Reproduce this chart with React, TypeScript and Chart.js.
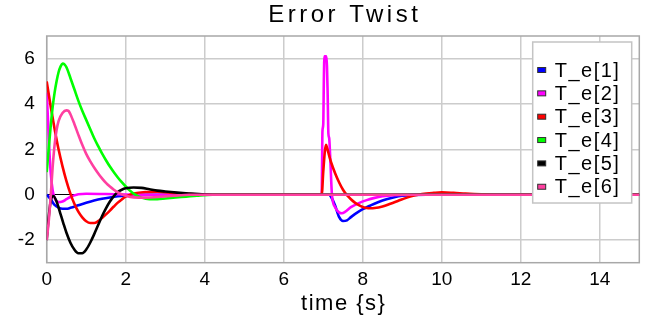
import { useEffect, useRef } from "react";
import { Chart, registerables } from "chart.js";

Chart.register(...registerables);

const chartTitle = "Error Twist";
const xAxisTitle = "time {s}";
const seriesNames = ["T_e[1]", "T_e[2]", "T_e[3]", "T_e[4]", "T_e[5]", "T_e[6]"];
const seriesColors = ["#0000ff", "#ff00ff", "#ff0000", "#00ff00", "#000000", "#ff3fa0"];
const xTicks = [0, 2, 4, 6, 8, 10, 12, 14];
const yTicks = [-2, 0, 2, 4, 6];
const xRange = [0, 15];
const yRange = [-3, 7];

const te1Time = [0, 0.1, 0.2, 0.3, 0.4, 0.5, 0.6, 0.8, 1.0, 1.2, 1.4, 1.6, 1.8, 2.0, 2.4, 2.8, 7.15, 7.2, 7.3, 7.4, 7.5, 7.6, 7.7, 7.8, 8.0, 8.2, 8.4, 8.6, 8.8, 9.0, 9.3, 9.6, 15];
const te1Value = [0, -0.2, -0.45, -0.57, -0.62, -0.62, -0.58, -0.47, -0.36, -0.26, -0.18, -0.12, -0.07, -0.04, -0.01, 0, 0, -0.1, -0.48, -0.98, -1.16, -1.13, -0.99, -0.86, -0.64, -0.47, -0.32, -0.2, -0.11, -0.05, -0.01, 0, 0];

const te2Time = [0, 0.03, 0.06, 0.1, 0.15, 0.2, 0.3, 0.4, 0.5, 0.6, 0.7, 0.8, 1.0, 1.5, 2.0, 2.5, 6.96, 6.98, 7.0, 7.015, 7.03, 7.08, 7.11, 7.13, 7.15, 7.18, 7.22, 7.3, 7.4, 7.47, 7.55, 7.7, 7.9, 8.1, 8.3, 8.5, 8.8, 9.2, 15];
const te2Value = [4.5, 3.4, 2.2, 1.0, 0.2, -0.15, -0.33, -0.3, -0.2, -0.1, -0.03, 0.02, 0.04, 0.03, 0.01, 0, 0, 2.8, 3.1, 5.0, 6.1, 6.1, 4.6, 2.7, 2.5, 1.5, 0.0, -0.55, -0.78, -0.82, -0.76, -0.55, -0.37, -0.24, -0.14, -0.07, -0.02, 0, 0];

const te3Time = [0, 0.1, 0.2, 0.3, 0.4, 0.5, 0.6, 0.7, 0.8, 0.9, 1.0, 1.1, 1.2, 1.3, 1.4, 1.5, 1.6, 1.7, 1.8, 1.9, 2.0, 2.2, 2.5, 2.8, 3.2, 3.6, 4.0, 6.96, 7.0, 7.04, 7.07, 7.1, 7.15, 7.2, 7.3, 7.4, 7.5, 7.6, 7.7, 7.8, 7.9, 8.0, 8.1, 8.2, 8.3, 8.5, 8.7, 8.9, 9.1, 9.3, 9.5, 9.8, 10.0, 10.3, 10.6, 11.0, 11.5, 15];
const te3Value = [5, 3.9, 2.9, 2.0, 1.25, 0.6, 0.05, -0.4, -0.75, -1.0, -1.17, -1.25, -1.25, -1.17, -1.03, -0.87, -0.7, -0.52, -0.35, -0.21, -0.09, 0.05, 0.12, 0.13, 0.08, 0.03, 0, 0, 1.0, 1.9, 2.2, 2.05, 1.72, 1.42, 0.95, 0.55, 0.22, -0.02, -0.2, -0.35, -0.46, -0.54, -0.59, -0.6, -0.59, -0.52, -0.4, -0.27, -0.14, -0.04, 0.03, 0.08, 0.1, 0.08, 0.05, 0.02, 0, 0];

const te4Time = [0, 0.05, 0.1, 0.15, 0.2, 0.25, 0.3, 0.35, 0.4, 0.45, 0.5, 0.6, 0.7, 0.8, 0.9, 1.0, 1.1, 1.2, 1.3, 1.4, 1.5, 1.6, 1.7, 1.8, 1.9, 2.0, 2.1, 2.2, 2.4, 2.6, 2.8, 3.0, 3.4, 3.8, 4.2, 15];
const te4Value = [1.0, 2.0, 3.0, 3.85, 4.5, 5.0, 5.4, 5.65, 5.78, 5.75, 5.62, 5.15, 4.65, 4.15, 3.7, 3.3, 2.9, 2.5, 2.15, 1.82, 1.52, 1.24, 0.99, 0.76, 0.55, 0.36, 0.19, 0.05, -0.13, -0.2, -0.2, -0.17, -0.1, -0.04, 0, 0];

const te5Time = [0, 0.05, 0.1, 0.17, 0.25, 0.34, 0.42, 0.5, 0.6, 0.7, 0.8, 0.9, 1.0, 1.1, 1.2, 1.3, 1.4, 1.5, 1.6, 1.7, 1.8, 1.9, 2.0, 2.2, 2.4, 2.6, 2.8, 3.0, 3.3, 3.6, 4.0, 4.5, 15];
const te5Value = [-2.0, -1.0, -0.3, -0.06, -0.3, -0.8, -1.25, -1.68, -2.12, -2.42, -2.58, -2.58, -2.42, -2.12, -1.75, -1.35, -0.95, -0.6, -0.3, -0.06, 0.12, 0.22, 0.28, 0.32, 0.3, 0.24, 0.18, 0.14, 0.09, 0.05, 0.01, 0, 0];

const te6Time = [0, 0.05, 0.1, 0.15, 0.2, 0.25, 0.3, 0.4, 0.5, 0.55, 0.6, 0.7, 0.8, 0.9, 1.0, 1.1, 1.2, 1.3, 1.4, 1.5, 1.6, 1.7, 1.8, 1.9, 2.0, 2.2, 2.5, 2.8, 3.2, 3.6, 15];
const te6Value = [-2, -1.2, -0.1, 1.2, 2.2, 2.85, 3.25, 3.6, 3.72, 3.7, 3.55, 3.12, 2.65, 2.2, 1.8, 1.48, 1.2, 0.95, 0.72, 0.52, 0.36, 0.22, 0.1, 0.02, -0.05, -0.12, -0.13, -0.1, -0.05, 0, 0];

const seriesTimes = [te1Time, te2Time, te3Time, te4Time, te5Time, te6Time];
const seriesValues = [te1Value, te2Value, te3Value, te4Value, te5Value, te6Value];

const FONT = '"Liberation Sans", Arial, sans-serif';

const decorPlugin = {
  id: "decor",
  beforeDatasetsDraw(chart: any) {
    const { ctx, chartArea: ca } = chart;
    ctx.save();
    ctx.strokeStyle = "#a8a8a8";
    ctx.lineWidth = 1.5;
    ctx.strokeRect(ca.left, ca.top, ca.right - ca.left, ca.bottom - ca.top);
    ctx.restore();
  },
  afterDraw(chart: any) {
    const { ctx, chartArea: ca } = chart;
    ctx.save();
    // title
    ctx.fillStyle = "#000";
    ctx.textBaseline = "middle";
    ctx.textAlign = "center";
    ctx.font = `24px ${FONT}`;
    (ctx as any).letterSpacing = "3.5px";
    ctx.fillText(chartTitle, (ca.left + ca.right) / 2 + 1.75, 15);
    // axis title
    ctx.font = `22px ${FONT}`;
    (ctx as any).letterSpacing = "1.5px";
    ctx.fillText(xAxisTitle, (ca.left + ca.right) / 2 + 0.75, 304);
    // legend box
    const x0 = ca.right - 106.6;
    const y0 = ca.top + 6;
    const w = 99;
    const h = 161;
    ctx.fillStyle = "#ffffff";
    ctx.fillRect(x0, y0, w, h);
    ctx.strokeStyle = "#c4c4c4";
    ctx.lineWidth = 1.5;
    ctx.strokeRect(x0, y0, w, h);
    ctx.font = `20px ${FONT}`;
    ctx.textAlign = "left";
    chart.data.datasets.forEach((ds: any, i: number) => {
      const cy = y0 + 28 + i * 23.35;
      ctx.fillStyle = ds.borderColor;
      ctx.fillRect(x0 + 5, cy - 2.5, 8, 5);
      ctx.strokeStyle = "#303030";
      ctx.lineWidth = 1;
      ctx.strokeRect(x0 + 5, cy - 2.5, 8, 5);
      ctx.fillStyle = "#000";
      ctx.fillText(ds.label, x0 + 22, cy + 1);
    });
    ctx.restore();
  },
};

export default function App() {
  const canvasRef = useRef<HTMLCanvasElement | null>(null);

  useEffect(() => {
    if (!canvasRef.current) return;
    const datasets = seriesNames.map((name, i) => ({
      label: name,
      data: seriesTimes[i].map((t, j) => ({ x: t, y: seriesValues[i][j] })),
      borderColor: seriesColors[i],
      backgroundColor: seriesColors[i],
      borderWidth: 2.6,
      pointRadius: 0,
      fill: false,
      cubicInterpolationMode: "monotone" as const,
      order: seriesNames.length - i,
    }));

    const chart = new Chart(canvasRef.current, {
      type: "line",
      data: { datasets },
      plugins: [decorPlugin],
      options: {
        animation: false,
        responsive: false,
        maintainAspectRatio: false,
        layout: { padding: { top: 36, right: 11.7, left: 0, bottom: 0 } },
        plugins: {
          legend: { display: false },
          title: { display: false },
          tooltip: { enabled: false },
        },
        scales: {
          x: {
            type: "linear",
            min: xRange[0],
            max: xRange[1],
            afterBuildTicks: (scale: any) => {
              scale.ticks = xTicks.map((v) => ({ value: v }));
            },
            afterFit: (scale: any) => {
              scale.height = 57.3;
            },
            ticks: {
              color: "#000",
              font: { family: FONT, size: 19 },
              padding: 6,
              maxRotation: 0,
              autoSkip: false,
            },
            grid: { color: "#cccccc", lineWidth: 1.5, drawTicks: false },
            border: { display: false },
          },
          y: {
            type: "linear",
            min: yRange[0],
            max: yRange[1],
            afterBuildTicks: (scale: any) => {
              scale.ticks = yTicks.map((v) => ({ value: v }));
            },
            afterFit: (scale: any) => {
              scale.width = 46.7;
            },
            ticks: {
              color: "#000",
              font: { family: FONT, size: 19 },
              padding: 12,
              autoSkip: false,
            },
            grid: {
              color: (c: any) => (c.tick && c.tick.value === 0 ? "#000000" : "#cccccc"),
              lineWidth: (c: any) => (c.tick && c.tick.value === 0 ? 1 : 1.5),
              drawTicks: false,
            },
            border: { display: false },
          },
        },
      },
    });
    return () => chart.destroy();
  }, []);

  return (
    <div style={{ position: "fixed", left: 0, top: 0, width: 651, height: 320, background: "#fff" }}>
      <canvas ref={canvasRef} width={651} height={320} style={{ display: "block", width: 651, height: 320 }} />
    </div>
  );
}
